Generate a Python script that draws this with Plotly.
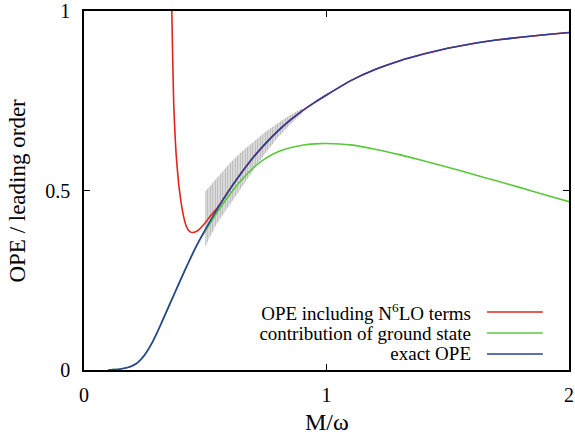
import plotly.graph_objects as go

# ---- data ----
x_exact = [0.10, 0.12, 0.15, 0.18, 0.20, 0.22, 0.25, 0.28, 0.30, 0.32, 0.35, 0.375,
           0.40, 0.43, 0.45, 0.47, 0.50, 0.55, 0.60, 0.65, 0.70, 0.75, 0.80, 0.85,
           0.90, 0.95, 1.00, 1.10, 1.20, 1.30, 1.40, 1.50, 1.60, 1.70, 1.80, 1.90, 2.00]
y_exact = [0.000, 0.001, 0.003, 0.007, 0.012, 0.020, 0.042, 0.075, 0.102, 0.132, 0.178, 0.216,
           0.254, 0.298, 0.327, 0.354, 0.391, 0.449, 0.502, 0.550, 0.594, 0.632, 0.666, 0.696,
           0.722, 0.745, 0.766, 0.806, 0.837, 0.861, 0.880, 0.896, 0.909, 0.919, 0.927, 0.934, 0.940]

x_ground = [0.10, 0.12, 0.15, 0.18, 0.20, 0.22, 0.25, 0.28, 0.30, 0.32, 0.35, 0.375,
            0.40, 0.43, 0.45, 0.47, 0.50, 0.55, 0.60, 0.65, 0.70, 0.75, 0.80, 0.85,
            0.90, 0.95, 1.00, 1.10, 1.20, 1.30, 1.40, 1.50, 1.60, 1.70, 1.80, 1.90, 2.00]
y_ground = [0.000, 0.001, 0.003, 0.007, 0.012, 0.020, 0.042, 0.075, 0.102, 0.132, 0.178, 0.216,
            0.254, 0.298, 0.327, 0.353, 0.387, 0.440, 0.488, 0.530, 0.564, 0.590, 0.608, 0.619,
            0.626, 0.630, 0.631, 0.627, 0.615, 0.600, 0.583, 0.565, 0.546, 0.527, 0.508, 0.488, 0.469]

x_n6lo = [0.358, 0.362, 0.366, 0.370, 0.375, 0.38, 0.39, 0.40, 0.41, 0.42, 0.43, 0.44,
          0.45, 0.46, 0.47, 0.48, 0.50, 0.52, 0.55, 0.60, 0.65, 0.70, 0.75, 0.80,
          0.85, 0.90, 0.95, 1.00, 1.10, 1.20, 1.30, 1.40, 1.50, 1.60, 1.70, 1.80, 1.90, 2.00]
y_n6lo = [1.100, 1.000, 0.860, 0.740, 0.660, 0.600, 0.520, 0.468, 0.430, 0.404, 0.390, 0.384,
          0.383, 0.385, 0.389, 0.395, 0.410, 0.428, 0.452, 0.502, 0.550, 0.594, 0.632, 0.666,
          0.696, 0.722, 0.745, 0.766, 0.806, 0.837, 0.861, 0.880, 0.896, 0.909, 0.919, 0.927, 0.934, 0.940]

x_band = [0.50, 0.52, 0.55, 0.60, 0.65, 0.70, 0.75, 0.80, 0.85, 0.90]
band_upper = [0.497, 0.512, 0.535, 0.575, 0.608, 0.636, 0.664, 0.688, 0.710, 0.729]
band_lower = [0.343, 0.372, 0.410, 0.460, 0.510, 0.558, 0.606, 0.648, 0.684, 0.716]

x_ticks = [0, 1, 2]
x_ticklabels = ["0", "1", "2"]
y_ticks = [0, 0.5, 1]
y_ticklabels = ["0", "0.5", "1"]

legend_labels = ["OPE including N<sup>6</sup>LO terms",
                 "contribution of ground state",
                 "exact OPE"]

RED = "#e3241c"
GREEN = "#5ac83c"
BLUE = "#2b3f9c"
FONT = "Liberation Serif, Times New Roman, Times, DejaVu Serif, serif"

fig = go.Figure()

# hatched uncertainty band
fig.add_trace(go.Scatter(x=x_band, y=band_lower, mode="lines", line=dict(width=0),
                         showlegend=False, hoverinfo="skip"))
fig.add_trace(go.Scatter(x=x_band, y=band_upper, mode="lines", line=dict(width=0),
                         fill="tonexty", fillcolor="rgba(0,0,0,0)",
                         fillpattern=dict(shape="|", fgcolor="#7a7a7a", bgcolor="rgba(225,225,225,0.7)",
                                          size=2.5, solidity=0.5),
                         showlegend=False, hoverinfo="skip"))

fig.add_trace(go.Scatter(x=x_n6lo, y=y_n6lo, mode="lines",
                         line=dict(color=RED, width=1.6, shape="spline", smoothing=0.4),
                         showlegend=False))
fig.add_trace(go.Scatter(x=x_ground, y=y_ground, mode="lines",
                         line=dict(color=GREEN, width=1.6, shape="spline", smoothing=0.5),
                         showlegend=False))
fig.add_trace(go.Scatter(x=x_exact, y=y_exact, mode="lines",
                         line=dict(color=BLUE, width=1.6, shape="spline", smoothing=0.5),
                         showlegend=False))

axis_common = dict(showline=True, linecolor="black", linewidth=1.6, mirror="ticks",
                   ticks="inside", ticklen=6, tickwidth=1.2, tickcolor="black",
                   showgrid=False, zeroline=False, automargin=False,
                   tickfont=dict(family=FONT, size=20, color="black"))

fig.update_xaxes(range=[0, 2], tickvals=x_ticks, ticktext=x_ticklabels,
                 ticklabelstandoff=6, **axis_common)
fig.update_yaxes(range=[0, 1], tickvals=y_ticks, ticktext=y_ticklabels,
                 ticklabelstandoff=8, **axis_common)

annotations = [
    dict(text="M/ω", x=0.5, y=-0.145, xref="paper", yref="paper",
         xanchor="center", yanchor="middle", showarrow=False,
         font=dict(family=FONT, size=24, color="black")),
    dict(text="OPE / leading order", x=-0.138, y=0.5, xref="paper", yref="paper",
         xanchor="center", yanchor="middle", textangle=-90, showarrow=False,
         font=dict(family=FONT, size=23, color="black")),
]
shapes = []
legend_rows_y = [0.1616, 0.103, 0.0446]
legend_colors = [RED, GREEN, BLUE]
for lab, yy, col in zip(legend_labels, legend_rows_y, legend_colors):
    annotations.append(dict(text=lab, x=0.800, y=yy, xref="paper", yref="paper",
                            xanchor="right", yanchor="middle", align="right",
                            width=240, borderpad=0, showarrow=False,
                            font=dict(family=FONT, size=19, color="black")))
    shapes.append(dict(type="line", xref="paper", yref="paper", x0=0.831, x1=0.946,
                       y0=yy, y1=yy, line=dict(color=col, width=1.6)))

fig.update_layout(width=575, height=440, margin=dict(l=84, r=6, t=11, b=70),
                  paper_bgcolor="white", plot_bgcolor="white",
                  annotations=annotations, shapes=shapes, showlegend=False)

fig.write_html("out.html")
